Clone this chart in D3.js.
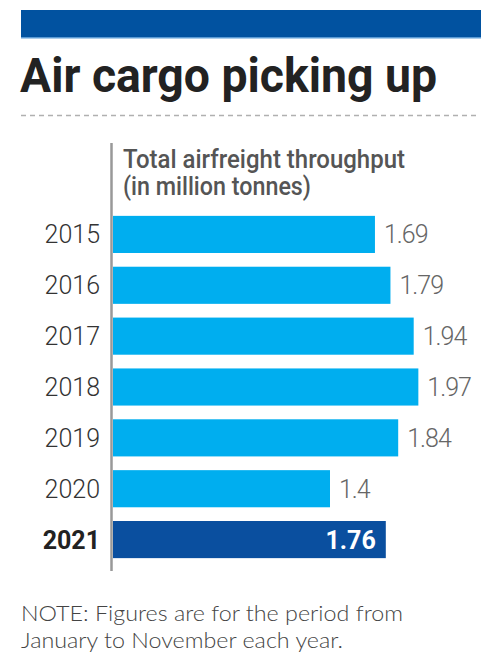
<!DOCTYPE html>
<html><head><meta charset="utf-8">
<script src="https://cdn.jsdelivr.net/npm/d3@7"></script>
<style>
html,body{margin:0;padding:0;background:#fff;}
svg{display:block;}
</style></head>
<body>
<script>
const years = ["2015","2016","2017","2018","2019","2020","2021"];
const values = [1.69, 1.79, 1.94, 1.97, 1.84, 1.4, 1.76];
const labels = ["1.69","1.79","1.94","1.97","1.84","1.4","1.76"];
const highlight = ["2021"];
const title = "Air cargo picking up";
const subtitle = ["Total airfreight throughput", "(in million tonnes)"];
const note = ["NOTE: Figures are for the period from", "January to November each year."];

const W = 490, H = 659;
const svg = d3.select("body").append("svg").attr("width", W).attr("height", H);

// top band
svg.append("rect").attr("x",21).attr("y",10).attr("width",460).attr("height",28).attr("fill","#0152a0");
svg.append("rect").attr("x",21).attr("y",37).attr("width",460).attr("height",1.5).attr("fill","#5b9bd5");

// title
const t = svg.append("text").attr("x",20).attr("y",92)
  .attr("font-family","Roboto, 'Liberation Sans', sans-serif").attr("font-weight",700)
  .attr("font-size",48).attr("fill","#222").text(title);
const tw = t.node().getComputedTextLength();
if (Math.abs(tw-417) > 3) t.attr("textLength",417).attr("lengthAdjust","spacingAndGlyphs");

// dashed rule
svg.append("line").attr("x1",21).attr("x2",476).attr("y1",115.5).attr("y2",115.5)
  .attr("stroke","#b0b0b0").attr("stroke-width",1.5).attr("stroke-dasharray","5,4");

// scales
const x0 = 113;
const x = d3.scaleLinear().domain([0, 1]).range([x0, x0 + 155]);
const y = d3.scaleBand().domain(years).range([209, 565]).paddingInner(0.27).paddingOuter(0.135);

// subtitle
const sub = svg.append("text").attr("font-family","Roboto, sans-serif")
  .attr("font-weight",500).attr("font-size",25).attr("fill","#555");
subtitle.forEach((s,i)=>{
  sub.append("tspan").attr("x",123).attr("y",168 + i*27).text(s);
});
const targetW = [282, 188];
sub.selectAll("tspan").each(function(d,i){
  const w = this.getComputedTextLength();
  if (Math.abs(w - targetW[i]) > 3) d3.select(this).attr("textLength", targetW[i]).attr("lengthAdjust","spacingAndGlyphs");
});

// bars
const g = svg.append("g");
g.selectAll("rect.bar").data(years).join("rect")
  .attr("class","bar")
  .attr("x", x(0))
  .attr("y", d=>y(d))
  .attr("width", (d,i)=>x(values[i]) - x(0))
  .attr("height", y.bandwidth())
  .attr("fill", d=> highlight.includes(d) ? "#0a4f9f" : "#00aeef");

// value labels
g.selectAll("text.val").data(years).join("text")
  .attr("class","val")
  .attr("x", (d,i)=> highlight.includes(d) ? x(values[i]) - 10 : x(values[i]) + 9)
  .attr("y", d=> y(d) + y.bandwidth()/2)
  .attr("dy","0.36em")
  .attr("text-anchor", d=> highlight.includes(d) ? "end" : "start")
  .attr("font-family","Roboto, sans-serif")
  .attr("font-weight", d=> highlight.includes(d) ? 700 : 300)
  .attr("font-size",25)
  .attr("letter-spacing", d=> highlight.includes(d) ? 0 : -1)
  .attr("fill", d=> highlight.includes(d) ? "#fff" : "#666")
  .text((d,i)=>labels[i]);

// year axis
const axis = d3.axisLeft(y).tickSize(0).tickPadding(12);
const ag = svg.append("g").attr("transform",`translate(${x0-1},0)`).call(axis);
ag.select(".domain").remove();
ag.selectAll("text")
  .attr("font-family","Roboto, sans-serif")
  .attr("font-size",25)
  .attr("font-weight", d=> highlight.includes(d) ? 700 : 300)
  .attr("fill", d=> highlight.includes(d) ? "#222" : "#333")
  .attr("dy","0.36em");

// vertical axis line
svg.append("line").attr("x1",111.5).attr("x2",111.5).attr("y1",143).attr("y2",571)
  .attr("stroke","#999").attr("stroke-width",2.5);

// note
const nt = svg.append("text").attr("font-family","Lato, 'Open Sans', sans-serif").attr("font-weight",300).attr("font-size",21).attr("fill","#444");
note.forEach((s,i)=> nt.append("tspan").attr("x",21).attr("y",621 + i*27).text(s));
const nW = [382, 322];
nt.selectAll("tspan").each(function(d,i){
  const w = this.getComputedTextLength();
  if (Math.abs(w - nW[i]) > 3) d3.select(this).attr("textLength", nW[i]).attr("lengthAdjust","spacingAndGlyphs");
});
</script>
</body></html>
